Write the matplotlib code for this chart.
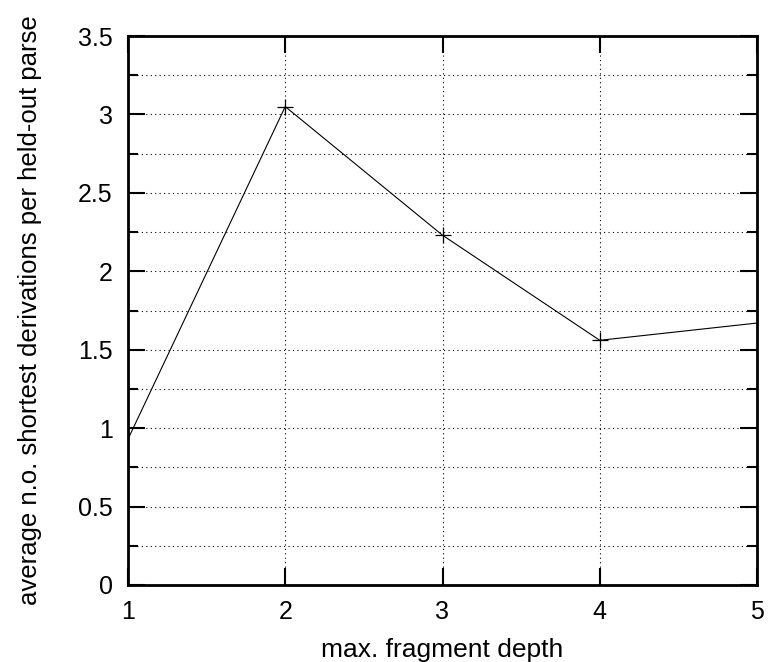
import matplotlib
matplotlib.use("Agg")
import matplotlib.pyplot as plt
import numpy as np

plt.rcParams['font.family'] = ['Liberation Sans', 'DejaVu Sans']

depth = [1, 2, 3, 4, 5]
avg_derivations = [0.93, 3.05, 2.23, 1.56, 1.67]
xticks = [1, 2, 3, 4, 5]
yticks_major = [0, 0.5, 1, 1.5, 2, 2.5, 3, 3.5]
yticks_minor = [0.25, 0.75, 1.25, 1.75, 2.25, 2.75, 3.25]

fig = plt.figure(figsize=(7.68, 6.62), dpi=100)
ax = fig.add_axes([128/768, 1 - 585/662, (757-128)/768, (585-36)/662])

ax.plot(depth, avg_derivations, color='black', linewidth=0.8)
# gnuplot omits the point symbols lying on the border
ax.plot(depth[1:-1], avg_derivations[1:-1], linestyle='none', color='black',
        marker='+', markersize=11, markeredgewidth=0.9)

ax.set_xlim(1, 5)
ax.set_ylim(0, 3.5)
ax.set_xticks(xticks)
ax.set_xticklabels([str(v) for v in xticks])
ax.set_yticks(yticks_major)
ax.set_yticklabels(['0', '0.5', '1', '1.5', '2', '2.5', '3', '3.5'])
ax.set_yticks(yticks_minor, minor=True)

ax.tick_params(axis='both', which='major', direction='in', length=12, width=1.5,
               top=True, right=True, labelsize=18)
ax.tick_params(axis='y', which='major', pad=11)
ax.tick_params(axis='x', which='major', pad=11)
ax.tick_params(axis='y', which='minor', direction='in', length=7, width=1.5,
               left=True, right=True)

for s in ax.spines.values():
    s.set_linewidth(2)

ax.grid(True, which='both', axis='y', linestyle=(0, (1, 3)), color='black', linewidth=0.8)
ax.grid(True, which='major', axis='x', linestyle=(0, (1, 3)), color='black', linewidth=0.8)

ax.set_xlabel('max. fragment depth', fontsize=19, labelpad=10)
ax.set_ylabel('average n.o. shortest derivations per held-out parse', fontsize=18.5, labelpad=26)

fig.savefig('out.png', dpi=100)
